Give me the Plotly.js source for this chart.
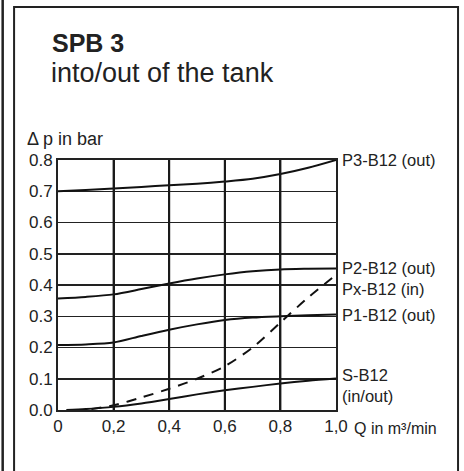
<!DOCTYPE html>
<html><head><meta charset="utf-8">
<script src="https://cdn.plot.ly/plotly-3.0.1.min.js"></script>
<style>html,body{margin:0;padding:0;background:#fff;}#c{width:464px;height:471px;}</style>
</head><body><div id="c"></div>
<script>
const flowQ = [0, 0.1, 0.2, 0.3, 0.4, 0.5, 0.6, 0.7, 0.8, 0.9, 1.0];
const p3 = [0.700, 0.704, 0.709, 0.714, 0.719, 0.724, 0.731, 0.740, 0.755, 0.775, 0.800];
const p2 = [0.357, 0.362, 0.370, 0.387, 0.405, 0.421, 0.434, 0.444, 0.450, 0.452, 0.453];
const p1 = [0.208, 0.210, 0.216, 0.237, 0.257, 0.274, 0.288, 0.296, 0.300, 0.303, 0.306];
const pxQ = [0.12, 0.2, 0.3, 0.4, 0.5, 0.6, 0.7, 0.8, 0.9, 1.0];
const px = [0.003, 0.015, 0.040, 0.068, 0.100, 0.140, 0.200, 0.280, 0.360, 0.432];
const sQ = [0.03, 0.1, 0.2, 0.3, 0.4, 0.5, 0.6, 0.7, 0.8, 0.9, 1.0];
const sb = [0.000, 0.003, 0.010, 0.021, 0.035, 0.050, 0.063, 0.074, 0.085, 0.094, 0.101];
const xTickVals = [0, 0.2, 0.4, 0.6, 0.8, 1.0];
const xTickText = ['0', '0,2', '0,4', '0,6', '0,8', '1,0'];
const yTickVals = [0, 0.1, 0.2, 0.3, 0.4, 0.5, 0.6, 0.7, 0.8];
const yTickText = ['0.0', '0.1', '0.2', '0.3', '0.4', '0.5', '0.6', '0.7', '0.8'];
const seriesLabels = ['P3-B12 (out)', 'P2-B12 (out)', 'Px-B12 (in)', 'P1-B12 (out)', 'S-B12<br>(in/out)'];

const F = 'Liberation Sans, Arial, Helvetica, sans-serif';
const ink = '#222';
const solid = {color: '#111', width: 2, shape: 'spline', smoothing: 0.8};
const traces = [
  {x: flowQ, y: p3, mode: 'lines', line: solid},
  {x: flowQ, y: p2, mode: 'lines', line: solid},
  {x: pxQ, y: px, mode: 'lines', line: Object.assign({}, solid, {dash: '10px,8px'})},
  {x: flowQ, y: p1, mode: 'lines', line: solid},
  {x: sQ, y: sb, mode: 'lines', line: solid}
];
const labelY = [0.8, 0.455, 0.388, 0.305, 0.08];
const annotations = seriesLabels.map((t, i) => ({
  x: 1, y: labelY[i], xref: 'x', yref: 'y', text: t, showarrow: false,
  xanchor: 'left', yanchor: 'middle', xshift: 4, align: 'left',
  font: {family: F, size: 16.5, color: ink}
}));
annotations.push({x: 1, y: 0, xref: 'x', yref: 'y', text: 'Q in m³/min', showarrow: false,
  xanchor: 'left', yanchor: 'top', xshift: 16, yshift: -8, font: {family: F, size: 16, color: ink}});
annotations.push({x: -0.12, y: 1.035, xref: 'paper', yref: 'paper', text: 'Δ p in bar', showarrow: false,
  xanchor: 'left', yanchor: 'bottom', font: {family: F, size: 18, color: ink}});
annotations.push({x: -0.03, y: 1.405, xref: 'paper', yref: 'paper', text: '<b>SPB 3</b>', showarrow: false,
  xanchor: 'left', yanchor: 'bottom', font: {family: F, size: 25, color: ink}});
annotations.push({x: -0.033, y: 1.28, xref: 'paper', yref: 'paper', text: 'into/out of the tank', showarrow: false,
  xanchor: 'left', yanchor: 'bottom', font: {family: F, size: 27, color: ink}});

const gridShapes = xTickVals.slice(1, -1).map(v => ({
  type: 'line', xref: 'x', yref: 'paper', x0: v, x1: v, y0: 0, y1: 1,
  line: {color: '#1a1a1a', width: 2}, layer: 'above'
}));

const layout = {
  width: 464, height: 471,
  margin: {l: 58, r: 128, t: 160, b: 61},
  paper_bgcolor: '#fff', plot_bgcolor: 'rgba(0,0,0,0)',
  showlegend: false,
  xaxis: {range: [0, 1], tickvals: xTickVals, ticktext: xTickText, showgrid: true, gridcolor: ink, gridwidth: 2,
    showline: true, linecolor: ink, linewidth: 2, mirror: true, ticks: '', zeroline: false,
    tickfont: {family: F, size: 17, color: ink}, fixedrange: true},
  yaxis: {range: [0, 0.8], tickvals: yTickVals, ticktext: yTickText, showgrid: true, gridcolor: ink, gridwidth: 1.5,
    showline: true, linecolor: ink, linewidth: 2, mirror: true, ticks: '', zeroline: false,
    tickfont: {family: F, size: 17, color: ink}, fixedrange: true},
  annotations: annotations,
  shapes: [
    {type: 'rect', xref: 'paper', yref: 'paper', x0: -0.158, x1: 1.439, y0: -0.3, y1: 1.612,
      line: {color: ink, width: 2}, layer: 'below'},
    {type: 'line', xref: 'paper', yref: 'paper', x0: -0.199, x1: -0.199, y0: -0.3, y1: 1.7,
      line: {color: ink, width: 2.5}}
  ].concat(gridShapes)
};
Plotly.newPlot('c', traces, layout, {staticPlot: true, displayModeBar: false});
</script></body></html>
